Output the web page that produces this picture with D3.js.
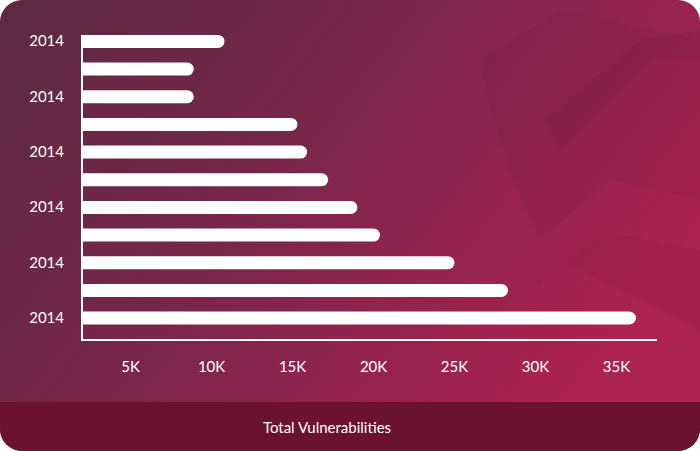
<!DOCTYPE html><html><head><meta charset="utf-8">
<script src="https://cdn.jsdelivr.net/npm/d3@7"></script>
<style>body{margin:0;background:#fff}svg{display:block}</style></head><body>
<svg id="c" width="700" height="451"></svg>
<script>
const categories=["2014","2014","2014","2014","2014","2014","2014","2014","2014","2014","2014"];
const values=[10800,8900,8900,15300,15900,17200,19000,20400,25000,28300,36200];
const ticks=[5000,10000,15000,20000,25000,30000,35000];
const tickLabels=["5K","10K","15K","20K","25K","30K","35K"];
const title="Total Vulnerabilities";

const svg=d3.select("#c");
const defs=svg.append("defs");
const g=defs.append("linearGradient").attr("id","bg").attr("x1","0").attr("y1","0").attr("x2","1").attr("y2","0.5");
g.append("stop").attr("offset","0").attr("stop-color","#5a2a40");
g.append("stop").attr("offset","0.45").attr("stop-color","#77264a");
g.append("stop").attr("offset","1").attr("stop-color","#ac2250");
defs.append("clipPath").attr("id","card").append("rect").attr("width",700).attr("height",451).attr("rx",22);
const root=svg.append("g").attr("clip-path","url(#card)");
root.append("rect").attr("width",700).attr("height",451).attr("fill","url(#bg)");
root.append("path").attr("d","M480,60 L560,10 L700,40 L700,330 L560,260 L520,300 L600,230 L700,250 L700,200 L610,180 L540,240 Q500,160 480,60Z")
 .attr("fill","#000").attr("opacity",0.04);
root.append("path").attr("d","M545,120 L560,150 L650,60 L700,60 L700,30 L640,40 Z").attr("fill","#000").attr("opacity",0.05);
root.append("rect").attr("y",402).attr("width",700).attr("height",49).attr("fill","#6a1230");
root.append("text").attr("x",327).attr("y",433).attr("text-anchor","middle").attr("fill","#fff")
 .attr("font-family","Lato").attr("font-size",15).text(title);

const x=d3.scaleLinear().domain([2000,37500]).range([82,657]);
const y=d3.scaleBand().domain(d3.range(values.length)).range([27.5,332]).paddingInner(0.53).paddingOuter(0.27);
const bh=y.bandwidth(), r=bh/2;
root.selectAll("path.bar").data(values).join("path").attr("class","bar").attr("fill","#fff")
 .attr("d",(d,i)=>{const x0=x(2000),x1=x(d),y0=y(i);
   return `M${x0},${y0}H${x1-r}A${r},${r} 0 0 1 ${x1-r},${y0+bh}H${x0}Z`;});
root.append("line").attr("x1",82).attr("x2",82).attr("y1",35).attr("y2",340).attr("stroke","#fff").attr("stroke-width",2);
root.append("line").attr("x1",81).attr("x2",657).attr("y1",340).attr("y2",340).attr("stroke","#fff").attr("stroke-width",2);
root.selectAll("text.yl").data(categories).join("text").attr("class","yl").filter((d,i)=>i%2===0)
 .attr("x",64).attr("y",(d,i)=>y(i*2)+bh/2+5).attr("text-anchor","end").attr("fill","#fff")
 .attr("font-family","Lato").attr("font-size",15).text(d=>d);
root.selectAll("text.xl").data(ticks).join("text").attr("class","xl").attr("x",d=>x(d)).attr("y",372).attr("text-anchor","middle")
 .attr("fill","#fff").attr("font-family","Lato").attr("font-size",15).text((d,i)=>tickLabels[i]);
</script></body></html>
